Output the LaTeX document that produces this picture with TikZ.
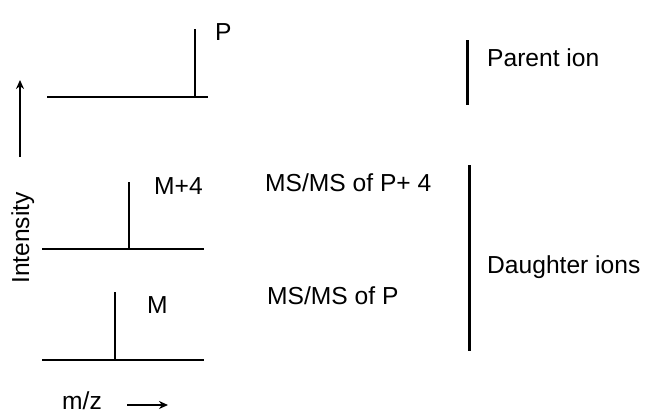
\documentclass[tikz,border=0pt]{standalone}
\usepackage{fontspec}
\setmainfont{Liberation Sans}
\usetikzlibrary{arrows.meta}
\begin{document}
\begin{tikzpicture}[x=1pt,y=-1pt,
  lbl/.style={inner sep=0pt,anchor=base west,font=\fontsize{24.6}{29}\selectfont},
  spec/.style={line width=1.4pt},
  bracket/.style={line width=3pt},
  axisarrow/.style={line width=1.8pt,-{Stealth[length=9pt,width=8pt]}}]
\useasboundingbox (0,0) rectangle (645,415);

% parent-ion spectrum
\coordinate (pa) at (47,97);
\coordinate (pb) at (208,97);
\coordinate (pp) at (195,97);
\coordinate (pt) at (195,29);
\draw[spec] (pa) -- (pb);
\draw[spec] (pp) -- (pt);
\node[lbl] (lP) at (215,40) {P};

% MS/MS of P+4
\coordinate (ma) at (42,249);
\coordinate (mb) at (204,249);
\coordinate (mp) at (129,249);
\coordinate (mt) at (129,182);
\draw[spec] (ma) -- (mb);
\draw[spec] (mp) -- (mt);
\node[lbl] (lM4) at (154,194) {M+4};
\node[lbl] (t1) at (265,191) {MS/MS of P+ 4};

% MS/MS of P
\coordinate (na) at (42,360);
\coordinate (nb) at (204,360);
\coordinate (np) at (115,360);
\coordinate (nt) at (115,292);
\draw[spec] (na) -- (nb);
\draw[spec] (np) -- (nt);
\node[lbl] (lM) at (147,313) {M};
\node[lbl] (t2) at (267,304) {MS/MS of P};

% brackets
\coordinate (b1a) at (467,40);
\coordinate (b1b) at (467,105);
\draw[bracket] (b1a) -- (b1b);
\node[lbl] (parent) at (487,66) {Parent ion};
\coordinate (b2a) at (469,165);
\coordinate (b2b) at (469,351);
\draw[bracket] (b2a) -- (b2b);
\node[lbl] (daughter) at (487,273) {Daughter ions};

% axes
\coordinate (ya) at (20,157);
\coordinate (yb) at (20,80);
\draw[axisarrow] (ya) -- (yb);
\node[lbl,anchor=base,rotate=90] (inten) at (29,238) {Intensity};
\node[lbl] (mz) at (62,409) {m/z};
\coordinate (xa) at (127,405);
\coordinate (xb) at (168,405);
\draw[axisarrow] (xa) -- (xb);
\end{tikzpicture}
\end{document}
